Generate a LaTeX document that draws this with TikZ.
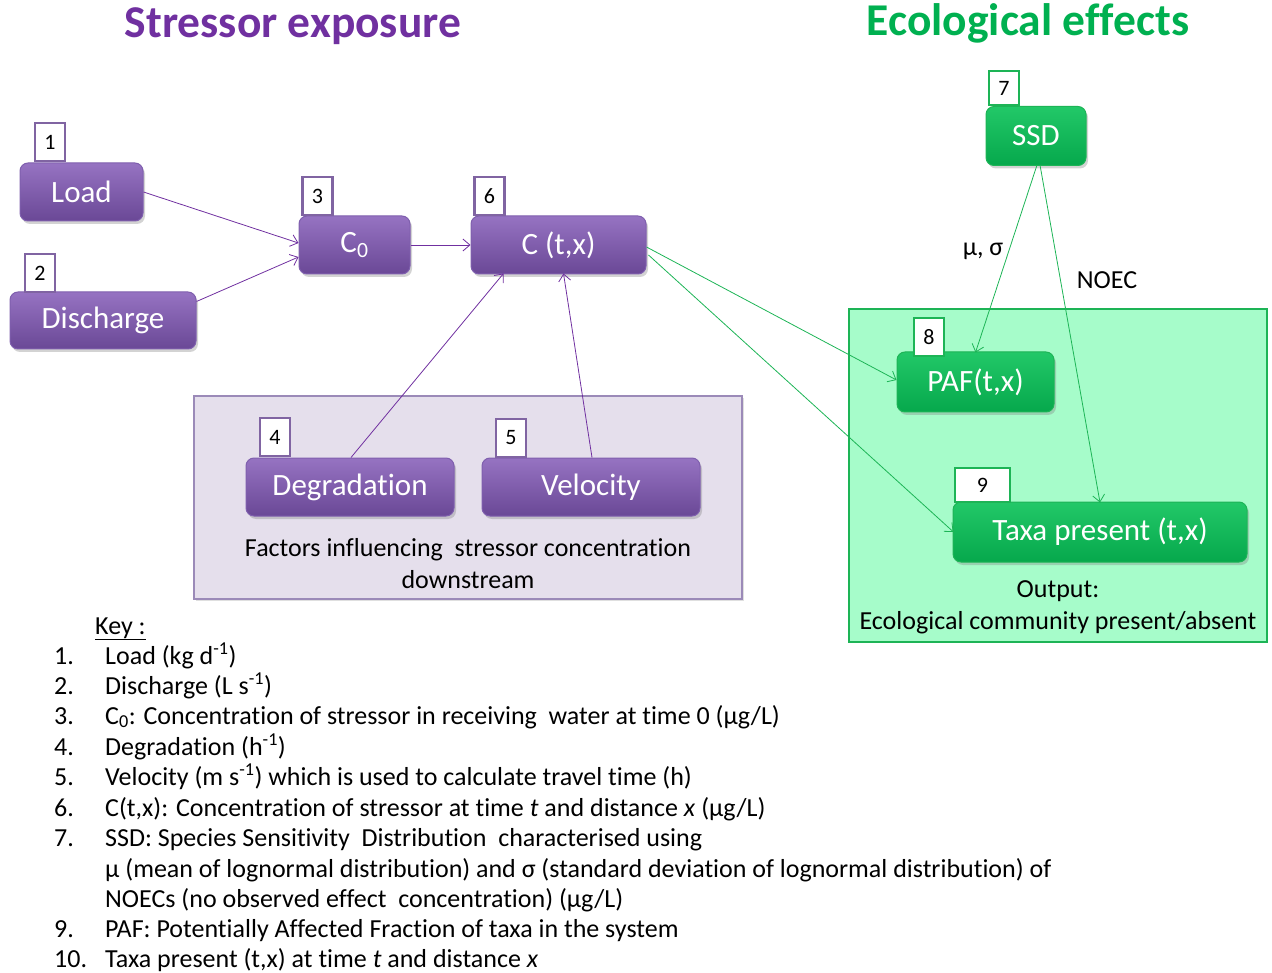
\documentclass[tikz,border=0pt]{standalone}
\usepackage{fontspec}
\setmainfont[Ligatures=NoCommon]{Carlito}
\usetikzlibrary{arrows.meta,shadows}
\definecolor{ptitle}{HTML}{7030A0}
\definecolor{gtitle}{HTML}{00B050}
\definecolor{ptop}{HTML}{9673C2}
\definecolor{pbot}{HTML}{6A4896}
\definecolor{pline}{HTML}{7F5FAE}
\definecolor{gtop}{HTML}{22C868}
\definecolor{gbot}{HTML}{06A84C}
\definecolor{gline}{HTML}{1DB456}
\definecolor{pbg}{HTML}{E5DFEC}
\definecolor{pbgline}{HTML}{9B8AB8}
\definecolor{gbg}{HTML}{A6FCCA}
\definecolor{parrow}{HTML}{7030A0}
\definecolor{garrow}{HTML}{1DB456}
\definecolor{plabel}{HTML}{8064A2}
\begin{document}
\begin{tikzpicture}[x=1pt,y=-1pt,
  pbox/.style={rounded corners=8pt, draw=pline, line width=1pt, top color=ptop, bottom color=pbot,
     text=white, font=\fontsize{31}{36}\selectfont, inner sep=0pt,
     drop shadow={shadow xshift=2pt, shadow yshift=-3pt, opacity=0.35}},
  gbox/.style={rounded corners=8pt, draw=gline, line width=1pt, top color=gtop, bottom color=gbot,
     text=white, font=\fontsize{31}{36}\selectfont, inner sep=0pt,
     drop shadow={shadow xshift=2pt, shadow yshift=-3pt, opacity=0.35}},
  plab/.style={draw=plabel, line width=2.8pt, fill=white, inner sep=0pt, minimum width=30pt, minimum height=38pt, font=\fontsize{22}{24}\selectfont},
  glab/.style={draw=gline, line width=2.8pt, fill=white, inner sep=0pt, minimum width=30pt, minimum height=34pt, font=\fontsize{22}{24}\selectfont},
  parr/.style={draw=parrow, line width=0.8pt, -{Straight Barb[length=7pt,width=12pt]}},
  garr/.style={draw=garrow, line width=0.8pt, -{Straight Barb[length=7pt,width=12pt]}},
  keytxt/.style={anchor=base west, inner sep=0pt, font=\fontsize{26}{30}\selectfont},
  plaintxt/.style={inner sep=0pt, font=\fontsize{26}{32}\selectfont, align=center},
  ttl/.style={inner sep=0pt, font=\fontsize{45.5}{52}\selectfont\bfseries}
]
\useasboundingbox (0,0) rectangle (1272,973);

% titles
\node[ttl, text=ptitle] (t1) at (293,26) {Stressor exposure};
\node[ttl, text=gtitle] (t2) at (1028,23) {Ecological effects};

% background regions
\node[draw=pbgline, line width=1.2pt, fill=pbg, minimum width=548pt, minimum height=203pt, inner sep=0pt,
  drop shadow={shadow xshift=2pt, shadow yshift=-2pt, opacity=0.25}] (bgp) at (468,497.5) {};
\node[draw=gline, line width=2.5pt, fill=gbg, minimum width=418pt, minimum height=333pt, inner sep=0pt] (bgg) at (1058,475.5) {};

% purple nodes
\node[pbox, minimum width=123pt, minimum height=58pt] (load) at (81.5,192) {Load};
\node[pbox, minimum width=186pt, minimum height=57pt] (dis) at (103,320.5) {Discharge};
\node[pbox, minimum width=111pt, minimum height=58pt] (c0) at (354.5,245) {C\textsubscript{0}};
\node[pbox, minimum width=175pt, minimum height=58pt] (ctx) at (558.5,245) {C (t,x)};
\node[pbox, minimum width=208pt, minimum height=58pt] (deg) at (350,487) {Degradation};
\node[pbox, minimum width=218pt, minimum height=58pt] (vel) at (591,487) {Velocity};

\node[plab] (l1) at (50,142) {1};
\node[plab] (l2) at (40,273) {2};
\node[plab] (l3) at (317.5,196) {3};
\node[plab] (l6) at (489.5,196) {6};
\node[plab] (l4) at (275,437) {4};
\node[plab] (l5) at (511,438) {5};

% green nodes
\node[gbox, minimum width=100pt, minimum height=59pt] (ssd) at (1036,136) {SSD};
\node[gbox, minimum width=157pt, minimum height=60pt] (paf) at (975.5,382) {PAF(t,x)};
\node[gbox, minimum width=294pt, minimum height=60pt] (taxa) at (1100,532) {Taxa present (t,x)};

\node[glab] (l7) at (1004,88) {7};
\node[glab, minimum height=38pt] (l8) at (929,337) {8};
\node[glab, minimum width=55pt] (l9) at (982.5,485) {9};

% region texts
\node[plaintxt] (fac) at (468,564) {Factors influencing\ \ stressor concentration\\downstream};
\node[plaintxt] (out) at (1058,607) {Output:\\Ecological community present/absent};

% connectors
\draw[parr] (load.east) -- ([yshift=2pt]c0.west);
\draw[parr] ([yshift=19pt]dis.east) -- ([yshift=-12pt]c0.west);
\draw[parr] (c0.east) -- (ctx.west);
\draw[parr] ([xshift=1pt]deg.north) -- ([xshift=-55pt,yshift=1pt]ctx.south);
\draw[parr] ([xshift=1pt]vel.north) -- ([xshift=5pt,yshift=1pt]ctx.south);
\draw[garr] ([yshift=-2pt]ctx.east) -- ([yshift=2pt]paf.west);
\draw[garr] ([xshift=2pt,yshift=-10pt]ctx.east) -- ([xshift=1pt]taxa.west);
\draw[garr] ([xshift=1pt,yshift=1pt]ssd.south) -- ([yshift=-1pt]paf.north);
\draw[garr] ([xshift=4pt,yshift=1pt]ssd.south) -- ([yshift=-1pt]taxa.north);
\node[inner sep=0pt, font=\fontsize{26}{30}\selectfont] (mu) at (983,251) {μ, σ};
\node[inner sep=0pt, font=\fontsize{26}{30}\selectfont] (noec) at (1107,280) {NOEC};

% key
\node[keytxt] (key) at (95,634) {\underline{Key :}};
\node[keytxt] (n1) at (54,664) {1.};
\node[keytxt] (k1) at (105,664) {Load (kg d\textsuperscript{-1})};
\node[keytxt] (n2) at (54,694) {2.};
\node[keytxt] (k2) at (105,694) {Discharge (L s\textsuperscript{-1})};
\node[keytxt] (n3) at (54,724) {3.};
\node[keytxt] (k3) at (105,724) {C\textsubscript{0}: Concentration of stressor in receiving\ \ water at time 0 (μg/L)};
\node[keytxt] (n4) at (54,755) {4.};
\node[keytxt] (k4) at (105,755) {Degradation (h\textsuperscript{-1})};
\node[keytxt] (n5) at (54,785) {5.};
\node[keytxt] (k5) at (105,785) {Velocity (m s\textsuperscript{-1}) which is used to calculate travel time (h)};
\node[keytxt] (n6) at (54,816) {6.};
\node[keytxt] (k6) at (105,816) {C(t,x): Concentration of stressor at time \textit{t} and distance \textit{x} (μg/L)};
\node[keytxt] (n7) at (54,846) {7.};
\node[keytxt] (k7) at (105,846) {SSD: Species Sensitivity\ \ Distribution\ \ characterised using};
\node[keytxt] (k7b) at (105,877) {μ (mean of lognormal distribution) and σ (standard deviation of lognormal distribution) of};
\node[keytxt] (k7c) at (105,907) {NOECs (no observed effect\ \ concentration) (μg/L)};
\node[keytxt] (n9) at (54,937) {9.};
\node[keytxt] (k9) at (105,937) {PAF: Potentially Affected Fraction of taxa in the system};
\node[keytxt] (n10) at (54,967) {10.};
\node[keytxt] (k10) at (105,967) {Taxa present (t,x) at time \textit{t} and distance \textit{x}};
\end{tikzpicture}
\end{document}
